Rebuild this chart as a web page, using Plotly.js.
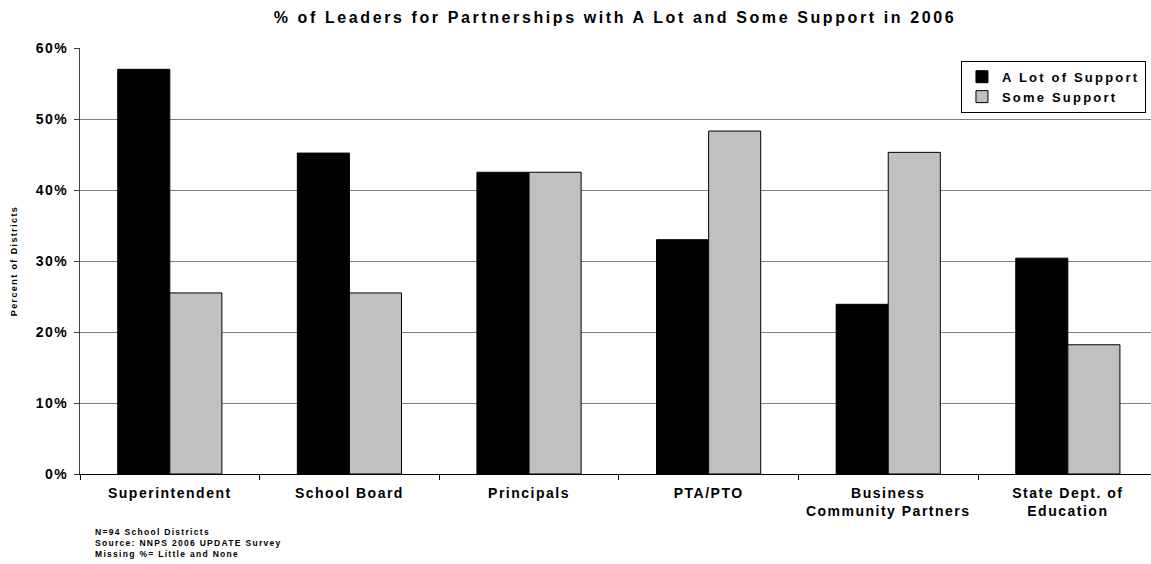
<!DOCTYPE html>
<html>
<head>
<meta charset="utf-8">
<script src="https://cdn.plot.ly/plotly-3.0.1.min.js"></script>
<style>
html,body{margin:0;padding:0;background:#fff;}
#chart{width:1151px;height:564px;}
text.gtitle{letter-spacing:2.6px;}
.xtick text{letter-spacing:1.5px;}
.ytick text{letter-spacing:1.5px;}
text.legendtext{letter-spacing:2.2px;}
text.ytitle{letter-spacing:1.4px;}
text.annotation-text{letter-spacing:1.3px;}
</style>
</head>
<body>
<div id="chart"></div>
<script>
var categories = ["Superintendent", "School Board", "Principals", "PTA/PTO", "Business<br>Community Partners", "State Dept. of<br>Education"];
var aLotOfSupport = [57.0, 45.2, 42.5, 33.0, 23.9, 30.4];
var someSupport = [25.5, 25.5, 42.5, 48.3, 45.3, 18.2];
var seriesNames = ["A Lot of Support", "Some Support"];
var yTickVals = [0, 10, 20, 30, 40, 50, 60];
var yTickText = ["0%", "10%", "20%", "30%", "40%", "50%", "60%"];
var footnote = "N=94 School Districts<br>Source: NNPS 2006 UPDATE Survey<br>Missing %= Little and None";

var font = "Arial, 'Liberation Sans', sans-serif";
var traces = [
  {type: "bar", name: seriesNames[0], x: categories, y: aLotOfSupport,
   marker: {color: "#000000", line: {color: "#000000", width: 1}}},
  {type: "bar", name: seriesNames[1], x: categories, y: someSupport,
   marker: {color: "#C0C0C0", line: {color: "#000000", width: 1}}}
];
var layout = {
  width: 1151, height: 564,
  margin: {l: 80, r: 0, t: 48, b: 90},
  paper_bgcolor: "#fff", plot_bgcolor: "#fff",
  font: {family: font, color: "#000", size: 13},
  title: {text: "<b>% of Leaders for Partnerships with A Lot and Some Support in 2006</b>",
          x: 0.4995, xref: "paper", xanchor: "center", y: 0.97, yanchor: "middle",
          font: {family: font, size: 16, color: "#000"}},
  barmode: "group", bargap: 0.42, bargroupgap: 0,
  xaxis: {type: "category", range: [-0.5, 5.463], showgrid: false, showline: true, linecolor: "#000", linewidth: 1,
          ticks: "outside", tickson: "boundaries", ticklen: 5, tickcolor: "#000", ticklabelstandoff: 6,
          tickfont: {family: font, size: 14, color: "#000", weight: "bold"}, fixedrange: true},
  yaxis: {range: [0, 60], tickvals: yTickVals, ticktext: yTickText, showgrid: true, gridcolor: "#808080", gridwidth: 1,
          showline: true, linecolor: "#404040", linewidth: 1, ticks: "outside", ticklen: 5, tickcolor: "#404040",
          ticklabelstandoff: 3,
          zeroline: true, zerolinecolor: "#000", zerolinewidth: 1,
          tickfont: {family: font, size: 14, color: "#000", weight: "bold"},
          title: {text: "<b>Percent of Districts</b>", font: {family: font, size: 9, color: "#000"}, standoff: 16}},
  legend: {x: 0.9953, y: 0.97, xanchor: "right", yanchor: "top", bordercolor: "#000", borderwidth: 1,
           bgcolor: "#fff", font: {family: font, size: 13, color: "#000", weight: "bold"}, tracegroupgap: 0, itemwidth: 30},
  annotations: [{text: "<b>" + footnote + "</b>", xref: "paper", yref: "paper", x: 0.012, y: -0.12,
                 xanchor: "left", yanchor: "top", align: "left", showarrow: false,
                 font: {family: font, size: 8.5, color: "#000"}}],
  showlegend: true
};
Plotly.newPlot("chart", traces, layout, {displayModeBar: false, staticPlot: true});
</script>
</body>
</html>
